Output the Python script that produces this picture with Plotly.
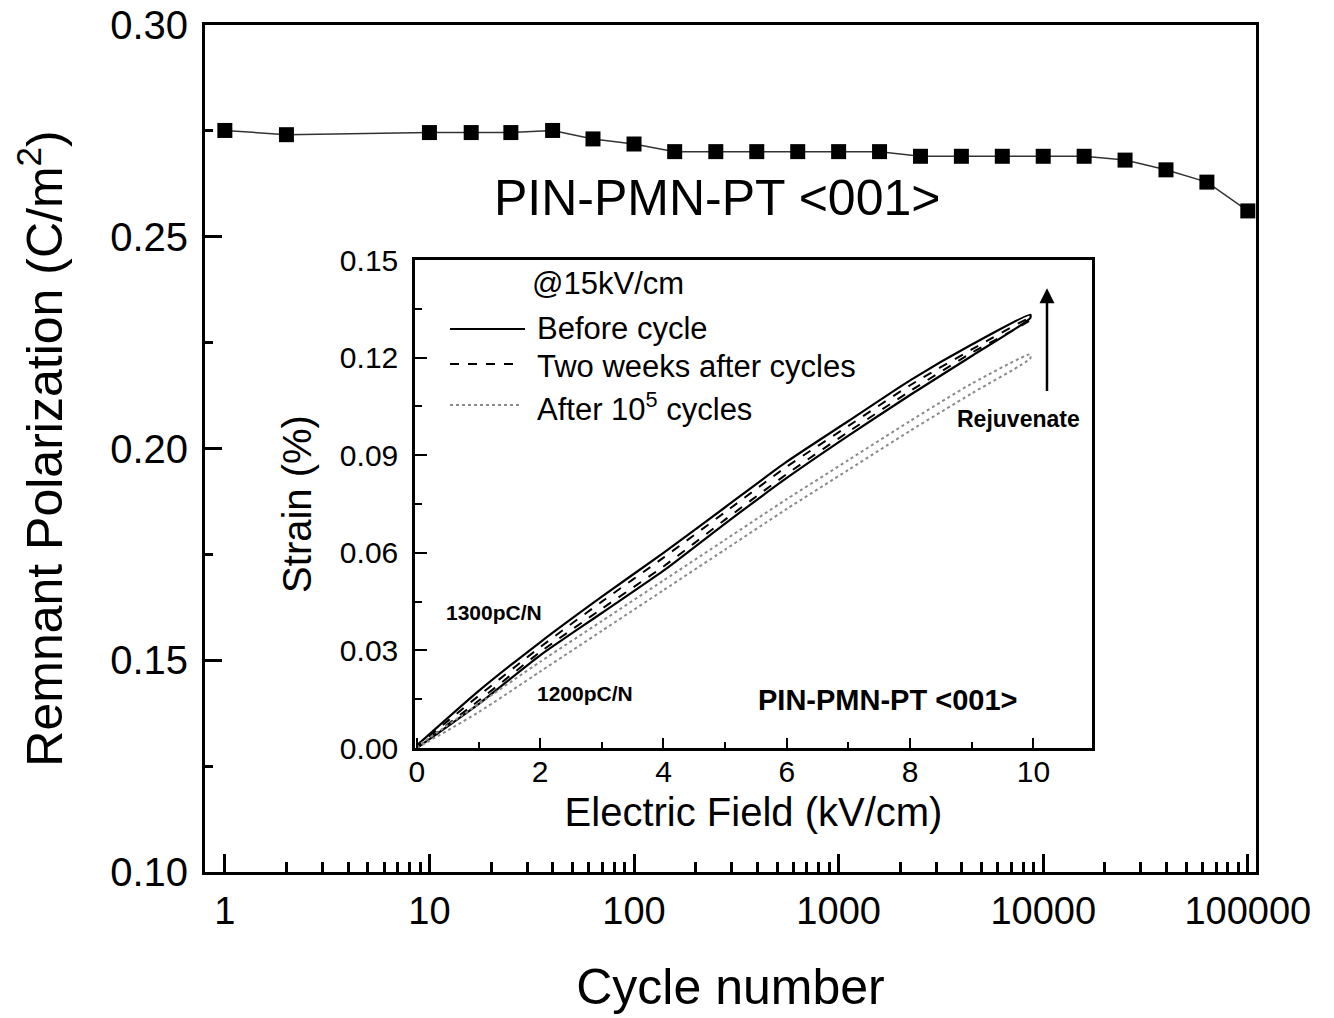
import plotly.graph_objects as go

# ---------------- data ----------------
cycles = [1, 2, 10, 16, 25, 40, 63, 100, 158, 251, 398, 631, 1000, 1585,
          2512, 3981, 6310, 10000, 15849, 25119, 39811, 63096, 100000]
remnant_pol = [0.2751, 0.2741, 0.2746, 0.2746, 0.2746, 0.2751, 0.2731, 0.2719,
               0.2701, 0.2701, 0.2701, 0.2701, 0.2701, 0.2701, 0.2690, 0.2690,
               0.2690, 0.2690, 0.2690, 0.2681, 0.2658, 0.2629, 0.2561]

main_tickvals = [1, 10, 100, 1000, 10000, 100000]
main_ticktext = ["1", "10", "100", "1000", "10000", "100000"]
minor_ticks = [m * d for d in [1, 10, 100, 1000, 10000] for m in range(2, 10)]

field_kv = [0, 1, 2, 3, 4, 5, 6, 7, 8, 9, 9.95]
before_rise = [0.0, 0.0135, 0.0285, 0.0415, 0.0545, 0.0690, 0.0830, 0.0960, 0.1085, 0.1205, 0.1322]
before_fall = [0.0008, 0.0175, 0.0325, 0.0465, 0.0600, 0.0740, 0.0880, 0.1005, 0.1130, 0.1240, 0.1332]
weeks_rise = [0.0, 0.0145, 0.0295, 0.0428, 0.0558, 0.0702, 0.0842, 0.0972, 0.1097, 0.1215, 0.1316]
weeks_fall = [0.0005, 0.0160, 0.0310, 0.0450, 0.0585, 0.0725, 0.0865, 0.0990, 0.1115, 0.1225, 0.1322]
cycled_rise = [0.0, 0.0110, 0.0235, 0.0360, 0.0485, 0.0610, 0.0735, 0.0855, 0.0975, 0.1090, 0.1198]
cycled_fall = [0.0005, 0.0135, 0.0265, 0.0390, 0.0515, 0.0640, 0.0765, 0.0885, 0.1005, 0.1120, 0.1210]

series_names = ["Before cycle", "Two weeks after cycles", "After 10<sup>5</sup> cycles"]

FONT = "Liberation Sans, Arial, sans-serif"
W, H = 1334, 1018


def px(x):
    return x / W


def py(y):
    return 1 - y / H


fig = go.Figure()

# main series
fig.add_trace(go.Scatter(
    x=cycles, y=remnant_pol, mode="lines+markers",
    line=dict(color="#333333", width=1.5),
    marker=dict(symbol="square", size=15, color="black"),
    xaxis="x", yaxis="y", showlegend=False))

# inset loops
loops = [
    (before_rise, before_fall, dict(color="black", width=2.2)),
    (weeks_rise, weeks_fall, dict(color="black", width=2, dash="dash")),
    (cycled_rise, cycled_fall, dict(color="#8a8a8a", width=2, dash="dot")),
]
for name, (rise, fall, ln) in zip(series_names, loops):
    fig.add_trace(go.Scatter(
        x=field_kv + field_kv[::-1], y=rise + fall[::-1],
        mode="lines", line=dict(shape="spline", smoothing=0.6, **ln),
        name=name, xaxis="x2", yaxis="y2", showlegend=False))

axis_common = dict(showline=True, mirror=True, linecolor="black",
                   showgrid=False, zeroline=False, ticks="inside",
                   tickcolor="black", automargin=False)

fig.update_layout(
    width=W, height=H,
    margin=dict(l=0, r=0, t=0, b=0),
    paper_bgcolor="white", plot_bgcolor="white",
    font=dict(family=FONT, color="black"),
    xaxis=dict(
        **axis_common, type="log", range=[-0.097, 5.04],
        domain=[px(205), px(1256)], anchor="y",
        linewidth=3, tickwidth=2.5, ticklen=18,
        tickmode="array", tickvals=main_tickvals, ticktext=main_ticktext,
        tickfont=dict(size=38), ticklabelstandoff=3,
        minor=dict(ticks="inside", ticklen=10, tickwidth=2.5, tickcolor="black",
                   tickmode="array", tickvals=minor_ticks),
        title=dict(text="Cycle number", font=dict(size=50), standoff=39),
    ),
    yaxis=dict(
        **axis_common, range=[0.10, 0.30],
        domain=[py(872), py(25)], anchor="x",
        linewidth=3, tickwidth=2.5, ticklen=17,
        dtick=0.05, tickformat=".2f",
        tickfont=dict(size=40), ticklabelstandoff=6,
        minor=dict(ticks="inside", ticklen=8, tickwidth=2.5, tickcolor="black",
                   dtick=0.025),
        title=dict(text="Remnant Polarization (C/m<sup>2</sup>)",
                   font=dict(size=50), standoff=32),
    ),
    xaxis2=dict(
        **axis_common, range=[-0.03, 10.95],
        domain=[px(415), px(1092)], anchor="y2",
        linewidth=2.5, tickwidth=2, ticklen=10,
        dtick=2, tickfont=dict(size=30), ticklabelstandoff=-5,
        minor=dict(ticks="inside", ticklen=6, tickwidth=2, tickcolor="black", dtick=1),
        title=dict(text="Electric Field (kV/cm)", font=dict(size=40), standoff=12),
    ),
    yaxis2=dict(
        **axis_common, range=[0, 0.15],
        domain=[py(748), py(260)], anchor="x2",
        linewidth=2.5, tickwidth=2, ticklen=12,
        dtick=0.03, tickformat=".2f",
        tickfont=dict(size=30), ticklabelstandoff=8,
        minor=dict(ticks="inside", ticklen=7, tickwidth=2, tickcolor="black", dtick=0.015),
        title=dict(text="Strain (%)", font=dict(size=40), standoff=16),
    ),
)

annotations = [
    dict(text="PIN-PMN-PT <001>", x=px(717), y=py(198), xref="paper", yref="paper",
         showarrow=False, font=dict(size=50), xanchor="center", yanchor="middle"),
    dict(text="@15kV/cm", x=px(530), y=py(284), xref="paper", yref="paper",
         showarrow=False, font=dict(size=31), xanchor="left", yanchor="middle"),
    dict(text="<b>1300pC/N</b>", x=1.25, y=0.0418, xref="x2", yref="y2",
         showarrow=False, font=dict(size=21)),
    dict(text="<b>1200pC/N</b>", x=2.72, y=0.0166, xref="x2", yref="y2",
         showarrow=False, font=dict(size=21)),
    dict(text="<b>PIN-PMN-PT <001></b>", x=7.64, y=0.0147, xref="x2", yref="y2",
         showarrow=False, font=dict(size=29)),
    dict(text="<b>Rejuvenate</b>", x=9.76, y=0.101, xref="x2", yref="y2",
         showarrow=False, font=dict(size=23)),
    dict(text="", x=10.22, y=0.1413, ax=10.22, ay=0.1093, xref="x2", yref="y2",
         axref="x2", ayref="y2", showarrow=True, arrowhead=2, arrowsize=1.2,
         arrowwidth=2.5, arrowcolor="black"),
]

legend_rows = [(329, dict(color="black", width=2.2), 525, 329),
               (364, dict(color="black", width=2, dash="dash"), 520, 367),
               (405, dict(color="#8a8a8a", width=2, dash="dot"), 520, 407)]
shapes = []
for name, (yy, ln, xend, ty) in zip(series_names, legend_rows):
    shapes.append(dict(type="line", xref="paper", yref="paper",
                       x0=px(450), x1=px(xend), y0=py(yy), y1=py(yy), line=ln))
    annotations.append(dict(text=name, x=px(535), y=py(ty), xref="paper", yref="paper",
                            showarrow=False, font=dict(size=31),
                            xanchor="left", yanchor="middle"))

fig.update_layout(annotations=annotations, shapes=shapes)

fig.write_html("out.html")
